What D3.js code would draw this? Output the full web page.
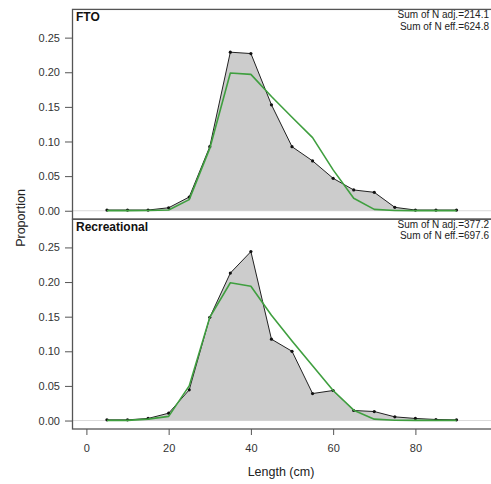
<!DOCTYPE html>
<html>
<head>
<meta charset="utf-8">
<script src="https://cdn.jsdelivr.net/npm/d3@7"></script>
<style>
  body { margin: 0; background: #fff; }
  svg { display: block; font-family: "Liberation Sans", Arial, sans-serif; }
</style>
</head>
<body>
<svg id="chart" width="491" height="484"></svg>
<script>
'use strict';

var lengths = [5, 10, 15, 20, 25, 30, 35, 40, 45, 50, 55, 60, 65, 70, 75, 80, 85, 90];
var fleets = ["FTO", "Recreational"];
var nAdj = ["214.1", "377.2"];
var nEff = ["624.8", "697.6"];

var ftoObs = [0.001, 0.001, 0.001, 0.0043, 0.0198, 0.0925, 0.229, 0.227, 0.153, 0.0925,
              0.072, 0.0468, 0.030, 0.0266, 0.0049, 0.001, 0.001, 0.001];
var ftoExp = [0.0002, 0.0002, 0.0003, 0.001, 0.016, 0.09, 0.199, 0.197, 0.165, 0.135,
              0.1055, 0.059, 0.018, 0.002, 0.0004, 0.0002, 0.0002, 0.0002];
var recObs = [0.001, 0.001, 0.003, 0.0106, 0.0443, 0.149, 0.213, 0.244, 0.1175, 0.100,
              0.039, 0.0434, 0.0145, 0.013, 0.0053, 0.003, 0.0015, 0.001];
var recExp = [0.0002, 0.0003, 0.002, 0.006, 0.05, 0.149, 0.199, 0.194, 0.152, 0.115,
              0.079, 0.0434, 0.015, 0.002, 0.0004, 0.0002, 0.0002, 0.0002];

var yTicks = [0, 0.05, 0.10, 0.15, 0.20, 0.25];
var xTicks = [0, 20, 40, 60, 80];

var observed = [ftoObs, recObs];
var expected = [ftoExp, recExp];

var svg = d3.select("#chart");

var left = 72,
    panelH = 209.8,
    firstTop = 8.9,
    frameColor = "#555";

var x = d3.scaleLinear()
    .domain([-3.5, 99])
    .range([left, left + 102.5 * 4.1125]);

fleets.forEach(function(name, i) {
    var top = firstTop + i * panelH;
    var y = d3.scaleLinear()
        .domain([-0.0115, 0.2915])
        .range([top + panelH, top]);

    var g = svg.append("g").attr("class", "panel");

    var obs = lengths.map(function(d, k) { return [d, observed[i][k]]; });
    var exp = lengths.map(function(d, k) { return [d, expected[i][k]]; });

    // zero reference line
    g.append("line")
        .attr("x1", left)
        .attr("x2", 491)
        .attr("y1", y(0))
        .attr("y2", y(0))
        .attr("stroke", "#d9d9d9")
        .attr("stroke-width", 1);

    // Observed area
    g.append("path")
        .datum(obs)
        .attr("fill", "#cccccc")
        .attr("d", d3.area()
            .x(function(d) { return x(d[0]); })
            .y0(y(0))
            .y1(function(d) { return y(d[1]); }));

    g.append("path")
        .datum(obs)
        .attr("fill", "none")
        .attr("stroke", "#222")
        .attr("stroke-width", 1)
        .attr("d", d3.line()
            .x(function(d) { return x(d[0]); })
            .y(function(d) { return y(d[1]); }));

    g.selectAll(".pt")
        .data(obs)
        .enter().append("circle")
        .attr("class", "pt")
        .attr("cx", function(d) { return x(d[0]); })
        .attr("cy", function(d) { return y(d[1]); })
        .attr("r", 1.6)
        .attr("fill", "#111");

    // Expected line
    g.append("path")
        .datum(exp)
        .attr("fill", "none")
        .attr("stroke", "#3f9f3f")
        .attr("stroke-width", 1.6)
        .attr("stroke-linejoin", "round")
        .attr("d", d3.line()
            .x(function(d) { return x(d[0]); })
            .y(function(d) { return y(d[1]); }));

    // Y Axis Ticks
    var yAxis = g.append("g")
        .attr("transform", "translate(" + left + ",0)")
        .call(d3.axisLeft(y).tickValues(yTicks).tickSize(7).tickPadding(5)
            .tickFormat(d3.format(".2f")));
    yAxis.select(".domain").remove();
    yAxis.selectAll("line").attr("stroke", frameColor);
    yAxis.selectAll("text")
        .attr("fill", "#333")
        .style("font-size", "11px")
        .style("font-family", "Liberation Sans, Arial, sans-serif");

    // panel frame
    g.append("rect")
        .attr("x", left + 0.5)
        .attr("y", top + 0.5)
        .attr("width", 600)
        .attr("height", panelH)
        .attr("fill", "none")
        .attr("stroke", frameColor)
        .attr("stroke-width", 1.3);

    g.append("text")
        .attr("x", left + 4)
        .attr("y", top + 12.3)
        .attr("font-weight", "bold")
        .attr("font-size", "12px")
        .attr("fill", "#111")
        .text(name);

    g.append("text")
        .attr("x", 489)
        .attr("y", top + 9.3)
        .attr("text-anchor", "end")
        .attr("font-size", "10px")
        .attr("fill", "#222")
        .text("Sum of N adj.=" + nAdj[i]);

    g.append("text")
        .attr("x", 489)
        .attr("y", top + 20.6)
        .attr("text-anchor", "end")
        .attr("font-size", "10px")
        .attr("fill", "#222")
        .text("Sum of N eff.=" + nEff[i]);
});

// X Axis Ticks
var bottom = firstTop + 2 * panelH + 0.5;
var xAxis = svg.append("g")
    .attr("transform", "translate(0," + bottom + ")")
    .call(d3.axisBottom(x).tickValues(xTicks).tickSize(6).tickPadding(9));
xAxis.select(".domain").remove();
xAxis.selectAll("line").attr("stroke", frameColor);
xAxis.selectAll("text")
    .attr("fill", "#333")
    .style("font-size", "11px")
    .style("font-family", "Liberation Sans, Arial, sans-serif");

svg.append("text")
    .attr("x", 281)
    .attr("y", 476)
    .attr("text-anchor", "middle")
    .attr("font-size", "12.5px")
    .attr("fill", "#222")
    .text("Length (cm)");

svg.append("text")
    .attr("transform", "translate(25,218) rotate(-90)")
    .attr("text-anchor", "middle")
    .attr("font-size", "12.5px")
    .attr("fill", "#222")
    .text("Proportion");
</script>
</body>
</html>
